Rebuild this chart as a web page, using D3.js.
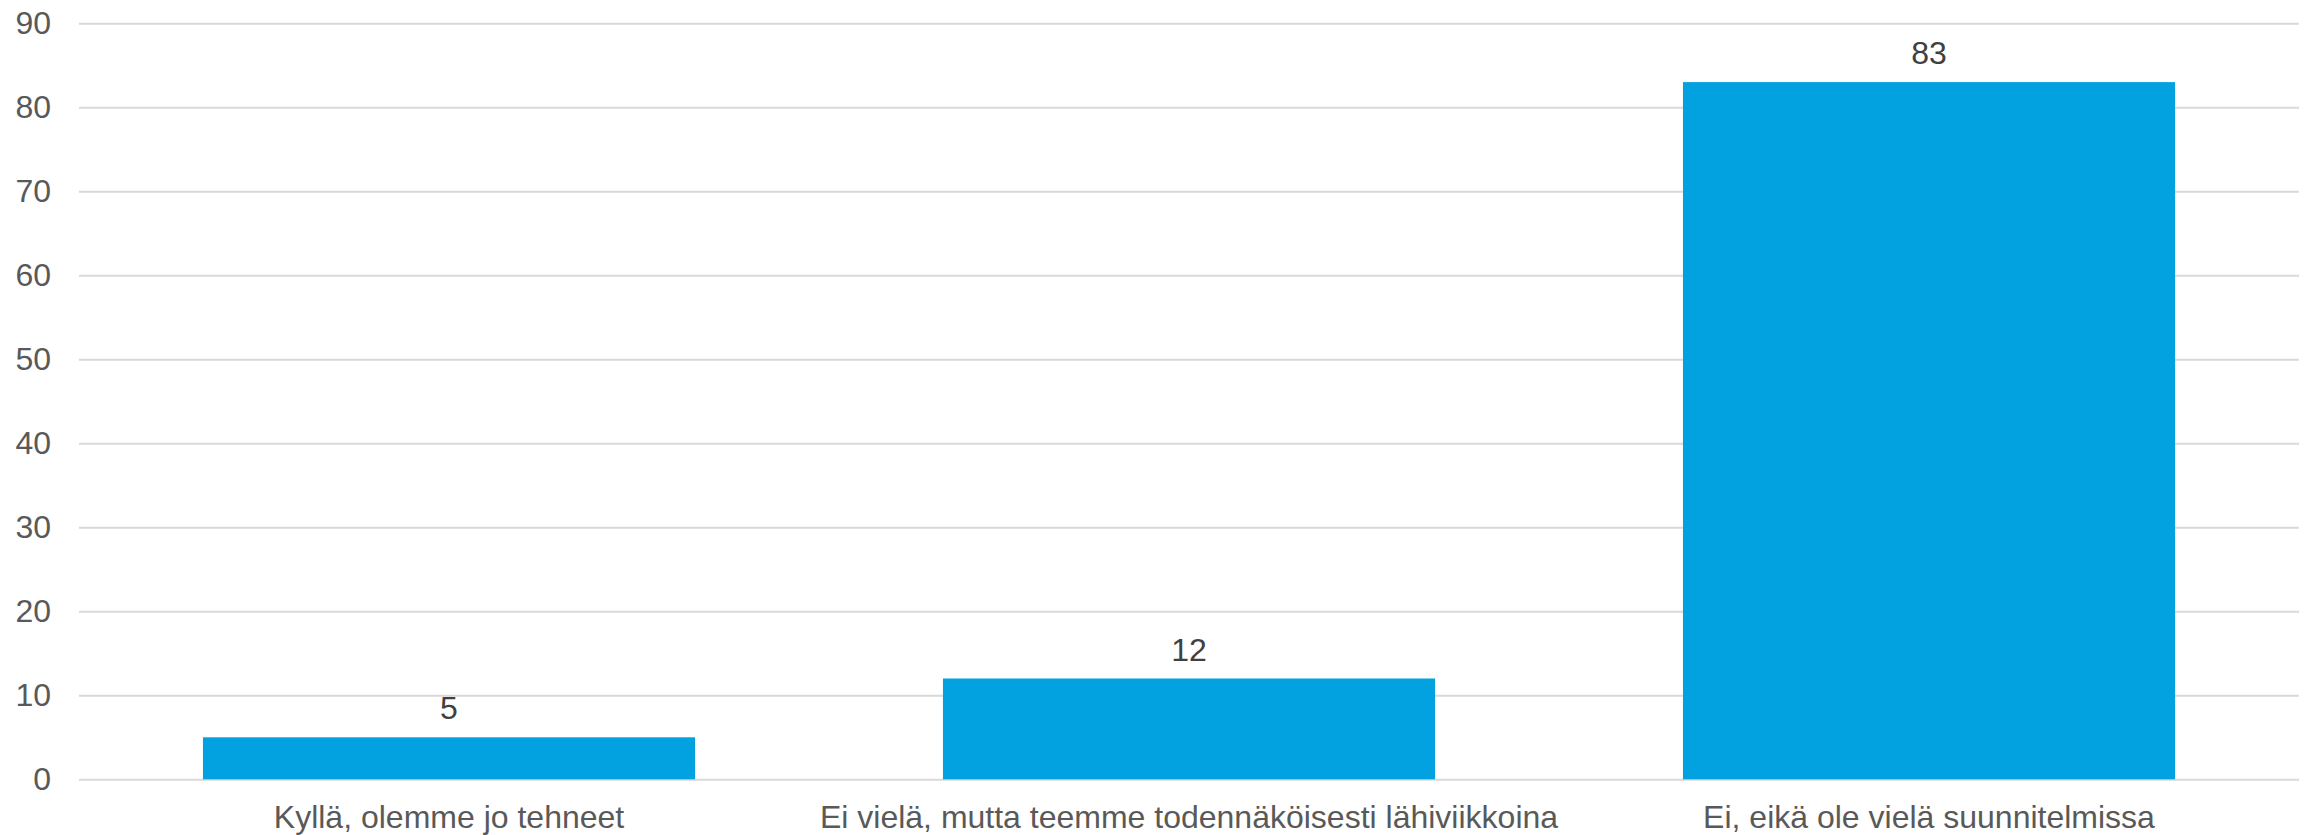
<!DOCTYPE html>
<html><head><meta charset="utf-8">
<script src="https://cdn.jsdelivr.net/npm/d3@7"></script>
<style>body{margin:0;background:#fff}svg{display:block}</style>
</head><body><svg id="c" width="2305" height="835"></svg>
<script>
const categories = ["Kyllä, olemme jo tehneet", "Ei vielä, mutta teemme todennäköisesti lähiviikkoina", "Ei, eikä ole vielä suunnitelmissa"];
const values = [5, 12, 83];
const yTicks = [0, 10, 20, 30, 40, 50, 60, 70, 80, 90];

const svg = d3.select("#c");
const mLeft = 79, mRight = 2299, mTop = 23.3, mBottom = 779.3;
const x = d3.scaleBand().domain(categories).range([mLeft, mRight]).paddingInner(0.335).paddingOuter(0.1675);
const y = d3.scaleLinear().domain([0, 90]).range([mBottom, mTop]);
const font = "'Liberation Sans', Arial, sans-serif";
const fs = 32;

const yAxis = svg.append("g").attr("transform", `translate(${mLeft},0)`)
  .call(d3.axisLeft(y).tickValues(yTicks).tickSize(-(mRight - mLeft)).tickPadding(28).tickFormat(d3.format("d")));
yAxis.select(".domain").remove();
yAxis.selectAll(".tick line").attr("stroke", "#d9d9d9").attr("stroke-width", 2);
yAxis.selectAll(".tick text").attr("fill", "#595959").attr("font-family", font).attr("font-size", fs);

svg.append("g").selectAll("rect").data(values).join("rect")
  .attr("x", (d, i) => x(categories[i]))
  .attr("width", x.bandwidth())
  .attr("y", d => y(d))
  .attr("height", d => y(0) - y(d))
  .attr("fill", "#02a2e0");

svg.append("g").selectAll("text").data(values).join("text")
  .attr("x", (d, i) => x(categories[i]) + x.bandwidth() / 2)
  .attr("y", d => y(d) - 18)
  .attr("text-anchor", "middle")
  .attr("fill", "#404040").attr("font-family", font).attr("font-size", fs)
  .text(d => d);

const xAxis = svg.append("g").attr("transform", `translate(0,${mBottom})`)
  .call(d3.axisBottom(x).tickSize(0).tickPadding(26));
xAxis.select(".domain").remove();
xAxis.selectAll(".tick text").attr("fill", "#595959").attr("font-family", font).attr("font-size", fs).attr("dy", "0.71em");
</script></body></html>
